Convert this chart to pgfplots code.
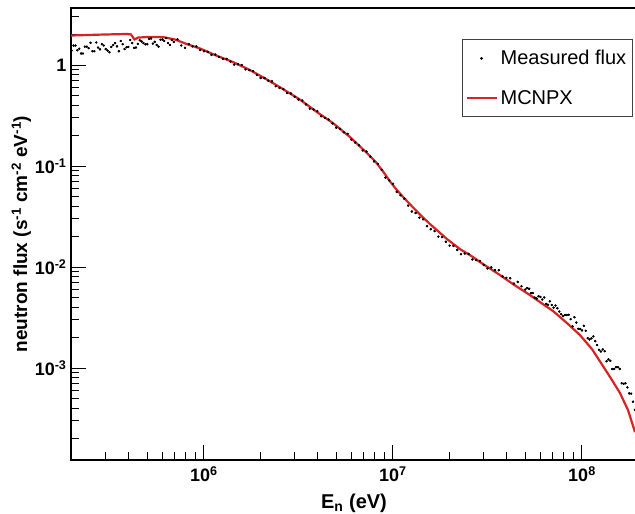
\documentclass[border=0pt]{standalone}
\usepackage{fontspec}
\setmainfont{Liberation Sans}
\usepackage{pgfplots}
\pgfplotsset{compat=1.18}
\usepackage{pgfplotstable}
\definecolor{mcred}{RGB}{215,35,35}
\pgfplotsset{
  dotleg/.style={legend image code/.code={\draw[##1, only marks] plot coordinates {(15pt,0pt)};}},
  lineleg/.style={legend image code/.code={\draw[##1] (0pt,0pt) -- (30pt,0pt);}},
}

\pgfplotstableread{
E F
1.995e5 1.39
2.089e5 1.56
2.188e5 1.45
2.291e5 1.30
2.399e5 1.52
2.512e5 1.66
2.630e5 1.37
2.754e5 1.49
2.884e5 1.61
3.020e5 1.44
3.162e5 1.34
3.311e5 1.58
3.467e5 1.53
3.631e5 1.73
3.802e5 1.44
3.981e5 1.51
4.169e5 1.65
4.365e5 1.49
4.571e5 1.76
4.786e5 1.65
5.012e5 1.61
5.248e5 1.83
5.495e5 1.70
5.754e5 1.52
6.026e5 1.79
6.310e5 1.85
6.607e5 1.58
6.918e5 1.69
7.244e5 1.80
7.586e5 1.56
7.943e5 1.48
8.318e5 1.61
8.710e5 1.53
9.120e5 1.53
9.550e5 1.41
1.000e6 1.37
1.047e6 1.35
1.096e6 1.26
1.148e6 1.27
1.202e6 1.20
1.259e6 1.15
1.318e6 1.15
1.380e6 1.08
1.445e6 1.01
1.514e6 1.02
1.585e6 1.00
1.660e6 0.906
1.738e6 0.891
1.820e6 0.869
1.905e6 0.80
1.995e6 0.745
2.089e6 0.743
2.188e6 0.70
2.291e6 0.689
2.399e6 0.617
2.512e6 0.593
2.630e6 0.577
2.754e6 0.528
2.884e6 0.523
3.020e6 0.485
3.162e6 0.455
3.311e6 0.445
3.467e6 0.408
3.631e6 0.370
3.802e6 0.363
3.981e6 0.350
4.169e6 0.311
4.365e6 0.300
4.571e6 0.289
4.786e6 0.264
5.012e6 0.240
5.248e6 0.234
5.495e6 0.216
5.754e6 0.208
6.026e6 0.183
6.310e6 0.171
6.607e6 0.161
6.918e6 0.143
7.244e6 0.139
7.586e6 0.124
7.943e6 0.111
8.318e6 0.105
8.710e6 0.0917
9.120e6 0.0769
9.550e6 0.0721
1.000e7 0.0667
1.047e7 0.0555
1.096e7 0.0514
1.148e7 0.0475
1.202e7 0.0406
1.259e7 0.0355
1.318e7 0.0343
1.380e7 0.0308
1.445e7 0.0297
1.514e7 0.0254
1.585e7 0.0237
1.660e7 0.0227
1.738e7 0.0200
1.820e7 0.0198
1.905e7 0.0178
1.995e7 0.0163
2.089e7 0.0162
2.188e7 0.0148
2.291e7 0.0134
2.399e7 0.0136
2.512e7 0.0135
2.630e7 0.0119
2.754e7 0.0117
2.884e7 0.0115
3.020e7 0.0105
3.162e7 0.00971
3.311e7 0.00993
3.467e7 0.00933
3.631e7 0.00931
3.802e7 0.00807
3.981e7 0.00782
4.169e7 0.00775
4.365e7 0.00686
4.571e7 0.00713
4.786e7 0.00646
5.012e7 0.00600
5.248e7 0.00610
5.495e7 0.00553
5.754e7 0.00488
6.026e7 0.00506
6.310e7 0.00500
6.607e7 0.00424
6.918e7 0.00421
7.244e7 0.00416
7.586e7 0.00363
7.943e7 0.00327
8.318e7 0.00335
8.710e7 0.00305
9.120e7 0.00319
9.550e7 0.00245
1.000e8 0.00236
1.047e8 0.00234
1.096e8 0.00192
1.148e8 0.00206
1.202e8 0.00169
1.259e8 0.00146
1.318e8 0.00147
1.380e8 0.00122
1.445e8 0.000977
1.514e8 0.00102
1.585e8 0.000982
1.660e8 0.000698
1.738e8 0.000644
1.820e8 0.000558
1.905e8 0.000386
2.042e5 1.56
2.138e5 1.40
2.239e5 1.30
2.344e5 1.52
2.455e5 1.47
2.570e5 1.37
2.692e5 1.67
2.818e5 1.43
2.951e5 1.56
3.090e5 1.39
3.236e5 1.51
3.388e5 1.65
3.548e5 1.37
3.715e5 1.61
3.890e5 1.50
4.074e5 1.77
4.266e5 1.48
4.467e5 1.62
4.677e5 1.71
4.898e5 1.60
5.129e5 1.82
5.370e5 1.63
5.623e5 1.58
5.888e5 1.78
6.166e5 1.73
6.457e5 1.65
6.761e5 1.77
5.129e7 0.00621
5.370e7 0.00552
5.623e7 0.00498
5.888e7 0.00515
6.166e7 0.00477
6.457e7 0.00432
6.761e7 0.00458
7.079e7 0.00397
7.413e7 0.00391
7.762e7 0.00342
8.128e7 0.00335
8.511e7 0.00337
8.913e7 0.00259
9.333e7 0.00282
9.772e7 0.00244
1.023e8 0.00262
1.072e8 0.00198
1.122e8 0.00197
1.175e8 0.00185
1.230e8 0.00152
1.288e8 0.00153
1.349e8 0.00117
1.413e8 0.00118
1.479e8 0.000980
1.549e8 0.00102
1.622e8 0.000708
1.698e8 0.000708
1.778e8 0.000562
1.862e8 0.000465
}\measured

\pgfplotstableread{
E F
1.98e5 1.96
2.817e5 2.00
3.914e5 2.03
4.11e5 2.01
4.29e5 1.79
4.48e5 1.87
5.18e5 1.90
6.07e5 1.89
7.03e5 1.79
8.13e5 1.61
9.52e5 1.46
1.144e6 1.256
1.424e6 1.071
1.751e6 0.892
2.154e6 0.719
2.618e6 0.578
3.221e6 0.455
3.962e6 0.342
4.814e6 0.2665
5.922e6 0.1937
7.286e6 0.1345
8.100e6 0.1100
8.800e6 0.0900
9.641e6 0.0705
1.040e7 0.0590
1.130e7 0.0495
1.276e7 0.0390
1.420e7 0.0318
1.570e7 0.02665
1.931e7 0.01893
2.262e7 0.01507
2.651e7 0.01256
2.886e7 0.01121
3.683e7 0.00833
4.313e7 0.00679
5.306e7 0.00528
5.995e7 0.00450
7.025e7 0.00367
8.330e7 0.00279
9.76e7 0.00212
1.130e8 0.00154
1.292e8 0.001046
1.441e8 7.61e-4
1.589e8 5.66e-4
1.752e8 3.84e-4
1.908e8 2.32e-4
}\mcnpx

\begin{document}
\begin{tikzpicture}
\begin{axis}[
  at={(0,0)}, anchor=south west,
  scale only axis, width=566pt, height=452pt,
  xmode=log, ymode=log,
  xmin=1.98e5, xmax=1.955e8, ymin=1.23e-4, ymax=3.67,
  axis line style={line width=2.5pt},
  tick pos=left,
  tick align=inside,
  major tick length=15pt, minor tick length=8pt,
  every tick/.style={black, line width=1pt},
  xtick={1e6,1e7,1e8},
  xticklabels={10\textsuperscript{6},10\textsuperscript{7},10\textsuperscript{8}},
  minor xtick={3e5,4e5,5e5,6e5,7e5,8e5,9e5,2e6,3e6,4e6,5e6,6e6,7e6,8e6,9e6,2e7,3e7,4e7,5e7,6e7,7e7,8e7,9e7},
  ytick={1e-3,1e-2,1e-1,1},
  yticklabels={10\textsuperscript{-3},10\textsuperscript{-2},10\textsuperscript{-1},1},
  minor ytick={2e-4,3e-4,4e-4,5e-4,6e-4,7e-4,8e-4,9e-4,2e-3,3e-3,4e-3,5e-3,6e-3,7e-3,8e-3,9e-3,2e-2,3e-2,4e-2,5e-2,6e-2,7e-2,8e-2,9e-2,2e-1,3e-1,4e-1,5e-1,6e-1,7e-1,8e-1,9e-1,2,3},
  tick label style={font=\fontsize{18}{21}\selectfont\bfseries},
  xticklabel style={anchor=north, yshift=-3pt},
  yticklabel style={anchor=east, xshift=-1pt},
  xlabel={E\textsubscript{n} (eV)},
  xlabel style={at={(axis description cs:0.5,-0.1080)}, anchor=base, font=\fontsize{20}{23}\selectfont\bfseries},
  ylabel={neutron flux (s\textsuperscript{-1} cm\textsuperscript{-2} eV\textsuperscript{-1})},
  ylabel style={at={(axis description cs:-0.0777,0.5)}, anchor=base, font=\fontsize{19}{22}\selectfont\bfseries},
  legend style={at={(axis description cs:0.6908,0.9314)}, anchor=north west,
    draw=black!75, line width=0.8pt, font=\fontsize{20}{23}\selectfont,
    inner xsep=3pt, inner ysep=7pt, row sep=16pt,
    nodes={inner xsep=3pt, inner ysep=4pt}},
  legend cell align=left,
]
\addplot[only marks, mark=*, mark size=0.9pt, black, dotleg]
  table[x=E, y=F] {\measured};
\addlegendentry{Measured flux}
\addplot[mcred, line width=2.2pt, no markers, lineleg]
  table[x=E, y=F] {\mcnpx};
\addlegendentry{MCNPX}
\addplot[only marks, mark=*, mark size=0.9pt, black, forget plot]
  table[x=E, y=F] {\measured};
\end{axis}
\pgfresetboundingbox
\useasboundingbox (-71pt,-54pt) rectangle (564pt,460pt);
\end{tikzpicture}
\end{document}
